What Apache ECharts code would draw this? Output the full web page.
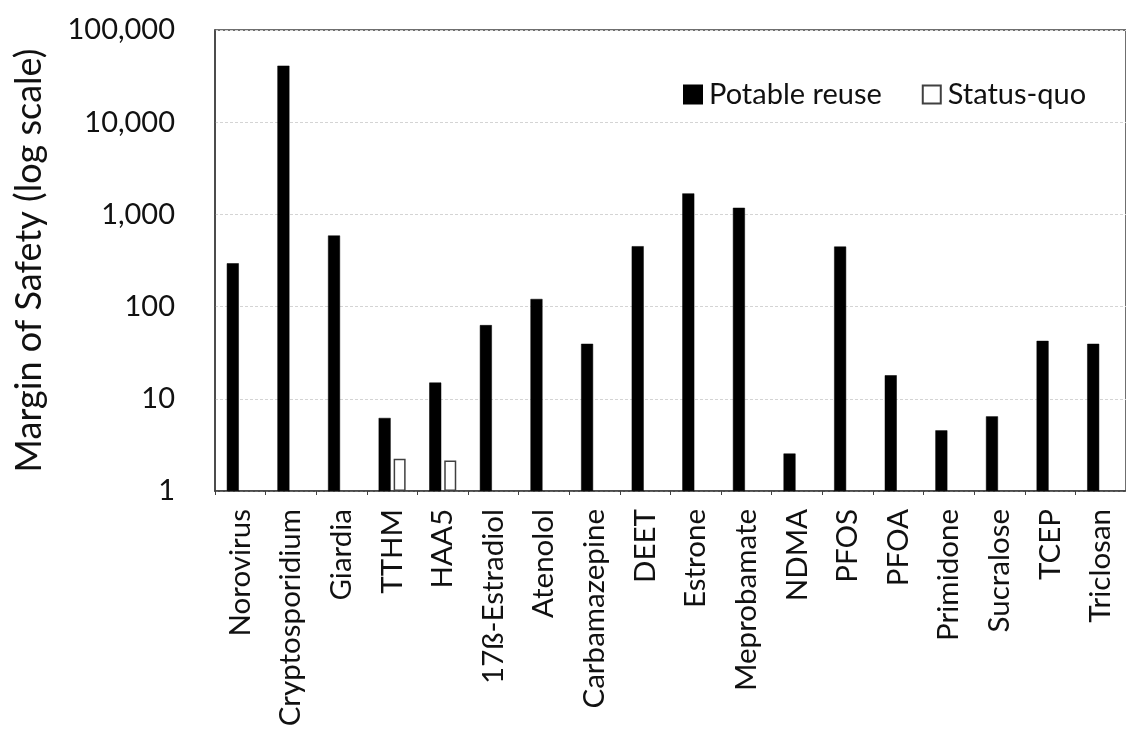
<!DOCTYPE html>
<html>
<head>
<meta charset="utf-8">
<script src="https://cdn.jsdelivr.net/npm/echarts@6/dist/echarts.min.js"></script>
<style>
  html, body { margin: 0; padding: 0; background: #fff; }
  #chart { width: 1126px; height: 738px; }
</style>
</head>
<body>
<div id="chart"></div>
<script>
const categories = ['Norovirus', 'Cryptosporidium', 'Giardia', 'TTHM', 'HAA5', '17ß-Estradiol', 'Atenolol',
  'Carbamazepine', 'DEET', 'Estrone', 'Meprobamate', 'NDMA', 'PFOS', 'PFOA', 'Primidone', 'Sucralose', 'TCEP', 'Triclosan'];
const potableReuse = [295, 41000, 590, 6.2, 15, 63, 121, 39.5, 452, 1690, 1180, 2.55, 448, 18, 4.55, 6.45, 42.5, 39.5];
const statusQuo = [null, null, null, 2.24, 2.14, null, null, null, null, null, null, null, null, null, null, null, null, null];

const font = 'Lato, "Open Sans", sans-serif';
const chart = echarts.init(document.getElementById('chart'));

chart.setOption({
  animation: false,
  backgroundColor: '#fff',
  textStyle: { fontFamily: font },
  grid: {
    left: 215, top: 30, right: -11, bottom: 247,
    show: true, borderColor: '#404040', borderWidth: 1.5
  },
  legend: {
    top: 75, left: 678,
    icon: 'rect', itemWidth: 18, itemHeight: 18, itemGap: 40,
    textStyle: { fontFamily: font, fontSize: 29, color: '#111', padding: [0, 0, 0, 2] },
    data: ['Potable reuse', 'Status-quo']
  },
  xAxis: {
    type: 'category',
    data: categories,
    axisLine: { lineStyle: { color: '#404040', width: 1.5 } },
    axisTick: { show: true, length: 4, lineStyle: { color: '#404040' } },
    axisLabel: { rotate: 90, margin: 18, interval: 0, fontSize: 29.5, color: '#111', fontFamily: font },
    splitLine: { show: false }
  },
  yAxis: {
    type: 'log',
    logBase: 10,
    min: 1,
    max: 100000,
    name: 'Margin of Safety (log scale)',
    nameLocation: 'middle',
    nameGap: 168,
    nameTextStyle: { fontSize: 36, color: '#111', fontFamily: font },
    axisLine: { show: true, lineStyle: { color: '#404040', width: 1.5 } },
    axisTick: { show: false },
    axisLabel: {
      margin: 40, fontSize: 29, color: '#111', fontFamily: font,
      formatter: v => Math.round(v).toLocaleString('en-US')
    },
    splitLine: { show: true, lineStyle: { color: '#d4d4d4', type: [3, 2], width: 1 } }
  },
  series: [
    {
      name: 'Potable reuse',
      type: 'bar',
      data: potableReuse,
      barWidth: 12,
      barGap: '25%',
      itemStyle: { color: '#000', borderColor: '#000', borderWidth: 0.5 }
    },
    {
      name: 'Status-quo',
      type: 'bar',
      data: statusQuo,
      barWidth: 12,
      itemStyle: { color: '#fff', borderColor: '#404040', borderWidth: 1.5 }
    }
  ]
});
</script>
</body>
</html>
